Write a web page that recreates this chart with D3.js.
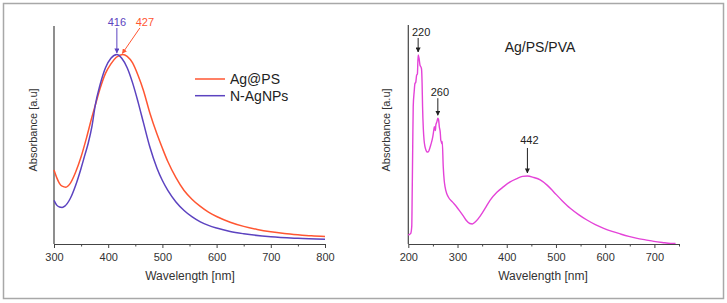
<!DOCTYPE html>
<html><head><meta charset="utf-8">
<script src="https://cdn.jsdelivr.net/npm/d3@7"></script>
<style>
html,body{margin:0;padding:0;background:#fff;}
svg{display:block;font-family:"Liberation Sans",Arial,sans-serif;}
</style></head>
<body>
<svg id="chart" width="727" height="303"></svg>
<script>
// ---- Left panel data ----
const agpsWave = [300,305,310,315,322,330,340,350,360,370,376,385,395,405,415,427,435,445,455,465,477,490,500,510,525,540,555,570,585,600,625,650,675,700,725,750,775,800];
const agpsAbs  = [0.39,0.35,0.32,0.305,0.30,0.32,0.38,0.46,0.56,0.67,0.73,0.82,0.90,0.95,0.985,1.0,0.99,0.955,0.89,0.81,0.69,0.58,0.505,0.435,0.35,0.282,0.235,0.198,0.168,0.145,0.115,0.093,0.077,0.065,0.056,0.049,0.043,0.039];
const nagWave = [300,305,310,315,320,330,340,350,357,363,370,376,385,395,405,416,425,435,445,455,465,477,490,500,510,525,540,555,570,585,600,625,650,700,750,800];
const nagAbs  = [0.23,0.205,0.195,0.193,0.20,0.24,0.31,0.40,0.47,0.53,0.62,0.73,0.84,0.93,0.98,1.0,0.98,0.93,0.85,0.75,0.64,0.51,0.40,0.335,0.283,0.222,0.177,0.143,0.117,0.098,0.084,0.066,0.054,0.038,0.030,0.025];
const leftSeries = ["Ag@PS","N-AgNPs"];
const leftMajorTicks = [300,400,500,600,700,800];
const leftMinorTicks = [350,450,550,650,750];
const leftPeaks = [416,427];

// ---- Right panel data ----
const pvaWave = [200,203,205,207,208,209,210,212,213.6,215,217,218.5,220,222,223.8,226,227,228,229,230.5,232,234,236,238,240.7,243,245.6,249.6,251,253,255,256,258,260,261.5,263,265,266,267,268,269,271,273,274.6,278,281,290,298,305,312,318,325,330,337,346,356,366,380,393.6,407,420.7,432,442,455,468,482,495,512,529,546,563,580,597,614,631,648,665,682,699,716,733,743];
const pvaAbs  = [0.041,0.045,0.049,0.08,0.25,0.45,0.63,0.70,0.737,0.74,0.775,0.78,0.867,0.85,0.82,0.81,0.80,0.74,0.63,0.53,0.477,0.445,0.43,0.422,0.423,0.435,0.454,0.49,0.51,0.538,0.52,0.546,0.56,0.577,0.57,0.538,0.51,0.477,0.47,0.46,0.47,0.355,0.29,0.263,0.232,0.217,0.192,0.171,0.150,0.128,0.108,0.094,0.092,0.103,0.128,0.163,0.2,0.237,0.263,0.285,0.30,0.31,0.312,0.305,0.294,0.27,0.24,0.20,0.164,0.135,0.11,0.089,0.072,0.058,0.046,0.035,0.026,0.019,0.012,0.007,0.003,0.003];
const rightMajorTicks = [200,300,400,500,600,700];
const rightMinorTicks = [250,350,450,550,650,750];
const rightPeaks = [220,260,442];

const colors = {"Ag@PS":"#ff5632","N-AgNPs":"#5c43c0",pva:"#e443d8"};
const svg = d3.select("#chart");

svg.append("rect").attr("x",3.5).attr("y",3.5).attr("width",720).attr("height",295)
  .attr("fill","none").attr("stroke","#a8a8a8").attr("stroke-width",1.5);

const defs = svg.append("defs");
function marker(id,color){
  defs.append("marker").attr("id",id).attr("viewBox","0 0 10 10").attr("refX",9).attr("refY",5)
    .attr("markerWidth",5).attr("markerHeight",5).attr("orient","auto")
    .append("path").attr("d","M0,0L10,5L0,10z").attr("fill",color);
}
marker("arP",colors["N-AgNPs"]); marker("arO",colors["Ag@PS"]); marker("arK","#222");

function xAxisDraw(x, major, minor, yPos){
  const gMin = svg.append("g").attr("transform",`translate(0,${yPos})`)
    .call(d3.axisBottom(x).tickValues(minor).tickSize(2.5).tickFormat(""));
  gMin.select(".domain").remove();
  const g = svg.append("g").attr("transform",`translate(0,${yPos})`)
    .call(d3.axisBottom(x).tickValues(major).tickSize(4).tickSizeOuter(0).tickFormat(d3.format("d")));
  g.selectAll("text").attr("font-size",11).attr("fill","#333").attr("font-family","Liberation Sans, Arial").attr("dy","0.9em");
  svg.selectAll(".tick line").attr("stroke","#444");
  g.select(".domain").attr("stroke","#444").attr("stroke-width",1.2);
}

// ---- Left panel ----
const xL = d3.scaleLinear().domain([300,800]).range([54,325]);
const yL = d3.scaleLinear().domain([0,1.15]).range([244,26]);
svg.append("line").attr("x1",54).attr("x2",54).attr("y1",yL(0)).attr("y2",yL(1.15)).attr("stroke","#444").attr("stroke-width",1.2);
xAxisDraw(xL, leftMajorTicks, leftMinorTicks, yL(0));

const lineL = d3.line().x(d=>xL(d[0])).y(d=>yL(d[1])).curve(d3.curveMonotoneX);
const leftData = [d3.zip(agpsWave,agpsAbs), d3.zip(nagWave,nagAbs)];
leftSeries.forEach((s,i)=>{
  svg.append("path").datum(leftData[i]).attr("d",lineL).attr("fill","none")
    .attr("stroke",colors[s]).attr("stroke-width",1.5);
});

// peak annotations left
svg.append("line").attr("x1",xL(leftPeaks[0])).attr("x2",xL(leftPeaks[0])).attr("y1",28).attr("y2",yL(1)-1.5)
  .attr("stroke",colors["N-AgNPs"]).attr("stroke-width",1).attr("marker-end","url(#arP)");
svg.append("text").attr("x",xL(leftPeaks[0])).attr("y",26).attr("text-anchor","middle").attr("font-size",11)
  .attr("fill",colors["N-AgNPs"]).text(leftPeaks[0]);
svg.append("line").attr("x1",xL(leftPeaks[1])+17).attr("x2",xL(leftPeaks[1])-0.5).attr("y1",28).attr("y2",yL(1)-1)
  .attr("stroke",colors["Ag@PS"]).attr("stroke-width",1).attr("marker-end","url(#arO)");
svg.append("text").attr("x",xL(leftPeaks[1])+22).attr("y",26).attr("text-anchor","middle").attr("font-size",11)
  .attr("fill",colors["Ag@PS"]).text(leftPeaks[1]);

// legend
leftSeries.forEach((s,i)=>{
  const yy = 79 + i*16.7;
  svg.append("line").attr("x1",195).attr("x2",225).attr("y1",yy).attr("y2",yy).attr("stroke",colors[s]).attr("stroke-width",1.5);
  svg.append("text").attr("x",230).attr("y",yy+5).attr("font-size",14).attr("fill","#222").text(s);
});

svg.append("text").attr("x",190).attr("y",280).attr("text-anchor","middle").attr("font-size",12).attr("fill","#333").text("Wavelength [nm]");
svg.append("text").attr("transform","translate(37,130) rotate(-90)").attr("text-anchor","middle").attr("font-size",11).attr("fill","#333").text("Absorbance [a.u]");

// ---- Right panel ----
const xR = d3.scaleLinear().domain([200,750]).range([408.3,679]);
const yR = d3.scaleLinear().domain([0,1]).range([244,26]);
svg.append("line").attr("x1",408.3).attr("x2",408.3).attr("y1",yR(0)).attr("y2",25).attr("stroke","#444").attr("stroke-width",1.2);
xAxisDraw(xR, rightMajorTicks, rightMinorTicks, yR(0));

const lineR = d3.line().x(d=>xR(d[0])).y(d=>yR(d[1])).curve(d3.curveMonotoneX);
svg.append("path").datum(d3.zip(pvaWave,pvaAbs)).attr("d",lineR).attr("fill","none")
  .attr("stroke",colors.pva).attr("stroke-width",1.4);

const peakAbs = {220:0.867,260:0.577,442:0.312};
const arrowLen = {220:14,260:17,442:25};
const labelGap = {220:6,260:6,442:8};
rightPeaks.forEach(p=>{
  const yTip = yR(peakAbs[p]) - 3;
  const yTop = yTip - arrowLen[p];
  svg.append("line").attr("x1",xR(p)).attr("x2",xR(p)).attr("y1",yTop).attr("y2",yTip)
    .attr("stroke","#222").attr("stroke-width",1).attr("marker-end","url(#arK)");
  svg.append("text").attr("x",xR(p)+(p===220?3:2)).attr("y",yTop-labelGap[p]+4).attr("text-anchor","middle")
    .attr("font-size",11).attr("fill","#222").text(p);
});

svg.append("text").attr("x",540).attr("y",52).attr("text-anchor","middle").attr("font-size",14).attr("fill","#222").text("Ag/PS/PVA");
svg.append("text").attr("x",543).attr("y",280).attr("text-anchor","middle").attr("font-size",12).attr("fill","#333").text("Wavelength [nm]");
svg.append("text").attr("transform","translate(390,130) rotate(-90)").attr("text-anchor","middle").attr("font-size",11).attr("fill","#333").text("Absorbance [a.u]");
</script>
</body></html>
